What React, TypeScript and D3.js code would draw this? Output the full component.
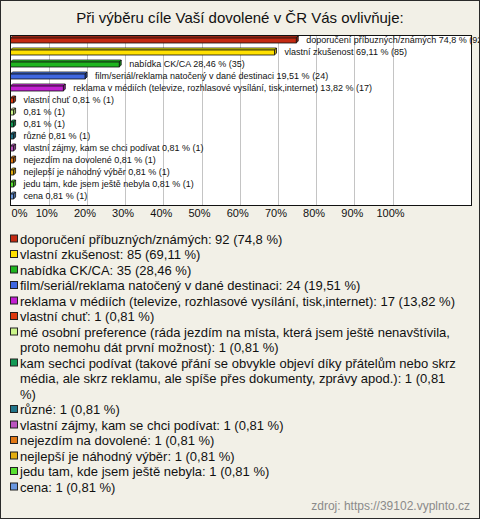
import React, { useMemo } from 'react';
import * as d3 from 'd3';

const title = 'Při výběru cíle Vaší dovolené v ČR Vás ovlivňuje:';
const categories = [
  'doporučení příbuzných/známých',
  'vlastní zkušenost',
  'nabídka CK/CA',
  'film/seriál/reklama natočený v dané destinaci',
  'reklama v médiích (televize, rozhlasové vysílání, tisk,internet)',
  'vlastní chuť',
  'mé osobní preference (ráda jezdím na místa, která jsem ještě nenavštívila, proto nemohu dát první možnost)',
  'kam sechci podívat (takové přání se obvykle objeví díky přátelům nebo skrz média, ale skrz reklamu, ale spíše přes dokumenty, zprávy apod.)',
  'různé',
  'vlastní zájmy, kam se chci podívat',
  'nejezdím na dovolené',
  'nejlepší je náhodný výběr',
  'jedu tam, kde jsem ještě nebyla',
  'cena',
];
const barNames = [
  'doporučení příbuzných/známých',
  'vlastní zkušenost',
  'nabídka CK/CA',
  'film/seriál/reklama natočený v dané destinaci',
  'reklama v médiích (televize, rozhlasové vysílání, tisk,internet)',
  'vlastní chuť',
  '',
  '',
  'různé',
  'vlastní zájmy, kam se chci podívat',
  'nejezdím na dovolené',
  'nejlepší je náhodný výběr',
  'jedu tam, kde jsem ještě nebyla',
  'cena',
];
const counts = [92, 85, 35, 24, 17, 1, 1, 1, 1, 1, 1, 1, 1, 1];
const percents = [74.8, 69.11, 28.46, 19.51, 13.82, 0.81, 0.81, 0.81, 0.81, 0.81, 0.81, 0.81, 0.81, 0.81];
const colors = [
  '#c42a12', '#ffe000', '#1fb51f', '#3f67e0', '#c21fd1', '#dd3a10', '#ccf58a',
  '#139a55', '#21758a', '#bb55c0', '#e07714', '#e2ad10', '#58e030', '#6a98e0',
];
const tickValues = [0, 10, 20, 30, 40, 50, 60, 70, 80, 90, 100];
const source = 'zdroj: https://39102.vyplnto.cz';

const W = 480;
const H = 519;
const FONT = '"Liberation Sans", Arial, sans-serif';

const fmt = (p: number) => String(p).replace('.', ',');

function wrapText(text: string, font: string, maxW: number): string[] {
  const ctx = document.createElement('canvas').getContext('2d')!;
  ctx.font = font;
  const words = text.split(' ');
  const lines: string[] = [];
  let cur = '';
  for (const w of words) {
    const t = cur ? cur + ' ' + w : w;
    if (cur && ctx.measureText(t).width > maxW) {
      lines.push(cur);
      cur = w;
    } else cur = t;
  }
  if (cur) lines.push(cur);
  return lines;
}

function shade(c: string, k: number) {
  const col = d3.color(c)!;
  return k > 0 ? col.brighter(k).formatHex() : col.darker(-k).formatHex();
}

export default function App() {
  const plot = { x0: 10, x1: 471, y0: 35, y1: 205 };
  const x = d3.scaleLinear().domain([0, 100]).range([10.5, 392.5]);
  const y = d3.scaleBand<number>().domain(d3.range(categories.length)).range([34, 202]).padding(0);
  const depth = 2;

  const legend = useMemo(() => {
    const items = categories.map((c, i) => ({
      lines: wrapText(`${c}: ${counts[i]} (${fmt(percents[i])} %)`, `13px ${FONT}`, 438),
      color: colors[i],
    }));
    let line = 0;
    return items.map((it) => {
      const start = line;
      line += it.lines.length;
      return { ...it, start };
    });
  }, []);

  const lineH = 15.5;
  const legendBase = 243.5;

  return (
    <svg width={W} height={H} style={{ position: 'absolute', left: 0, top: 0 }} fontFamily={FONT}>
      <defs>
        <clipPath id="frame">
          <rect x={0} y={0} width={W - 1} height={H} />
        </clipPath>
      </defs>
      <rect x={0.5} y={0.5} width={W - 1} height={H - 1} fill="#f2f0e7" stroke="#2a2a2a" />
      <text x={W / 2} y={23} textAnchor="middle" fontSize={15} fill="#111">{title}</text>
      <rect x={plot.x0 + 0.5} y={plot.y0 + 0.5} width={plot.x1 - plot.x0} height={plot.y1 - plot.y0} fill="#fff" />
      {tickValues.slice(1).map((t) => (
        <line key={t} x1={Math.round(x(t)) + 0.5} x2={Math.round(x(t)) + 0.5} y1={plot.y0} y2={plot.y1} stroke="#c4c4c4" />
      ))}
      <g clipPath="url(#frame)">
        {percents.map((p, i) => {
          const c = y(i)! + y.bandwidth() / 2;
          const x0 = x(0);
          const x1 = x(p);
          const top = c - 2;
          const h = 5;
          const col = colors[i];
          return (
            <g key={i}>
              <polygon
                points={`${x0},${top} ${x0 + depth},${top - depth} ${x1 + depth},${top - depth} ${x1},${top}`}
                fill={shade(col, 0.6)} stroke="#111" strokeWidth={0.8} strokeLinejoin="round"
              />
              <polygon
                points={`${x1},${top} ${x1 + depth},${top - depth} ${x1 + depth},${top + h - depth} ${x1},${top + h}`}
                fill={shade(col, -0.8)} stroke="#111" strokeWidth={0.8} strokeLinejoin="round"
              />
              <rect x={x0} y={top} width={x1 - x0} height={h} fill={col} stroke="#111" strokeWidth={0.8} />
              <text x={x1 + depth + 8} y={c + 3} fontSize={9} fill="#111">
                {(barNames[i] ? barNames[i] + ' ' : '') + `${fmt(p)} % (${counts[i]})`}
              </text>
            </g>
          );
        })}
      </g>
      <rect x={plot.x0 + 0.5} y={plot.y0 + 0.5} width={plot.x1 - plot.x0} height={plot.y1 - plot.y0} fill="none" stroke="#111" />
      {tickValues.map((t) => (
        <text key={t} x={t === 0 ? x(t) + 1 : x(t) - 2} y={217} fontSize={11} fill="#111" textAnchor={t === 0 ? 'start' : 'middle'}>
          {t}%
        </text>
      ))}
      {legend.map((it, i) => (
        <g key={i}>
          <rect x={10.5} y={legendBase + it.start * lineH - 8.5} width={7} height={7} fill={it.color} stroke="#222" />
          {it.lines.map((l, j) => (
            <text key={j} x={20} y={legendBase + (it.start + j) * lineH} fontSize={13} fill="#111">{l}</text>
          ))}
        </g>
      ))}
      <text x={470} y={510} textAnchor="end" fontSize={12} fill="#8a8a8a">{source}</text>
    </svg>
  );
}
